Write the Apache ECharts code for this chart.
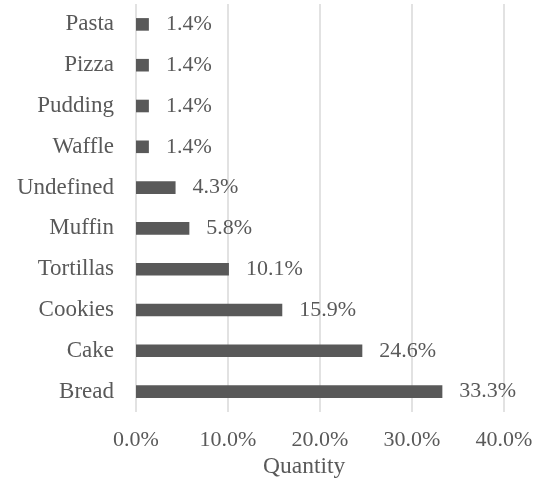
<!DOCTYPE html>
<html>
<head>
<meta charset="utf-8">
<script src="https://cdn.jsdelivr.net/npm/echarts@6/dist/echarts.min.js"></script>
<style>
  html, body { margin: 0; padding: 0; background: #ffffff; }
  #chart { width: 539px; height: 482px; }
</style>
</head>
<body>
<div id="chart"></div>
<script>
// Share of recipes per food category (percent), listed bottom to top
const categories = ['Bread', 'Cake', 'Cookies', 'Tortillas', 'Muffin', 'Undefined', 'Waffle', 'Pudding', 'Pizza', 'Pasta'];
const quantityPct = [33.3, 24.6, 15.9, 10.1, 5.8, 4.3, 1.4, 1.4, 1.4, 1.4];
const axisTicks = [0, 10, 20, 30, 40];

const FONT = "'Liberation Serif', 'Times New Roman', serif";
const TEXT = '#595959';

const chart = echarts.init(document.getElementById('chart'), null, { renderer: 'canvas' });

chart.setOption({
  animation: false,
  backgroundColor: '#ffffff',
  grid: { left: 136, right: 35, top: 4, bottom: 70, containLabel: false },
  xAxis: {
    type: 'value',
    min: axisTicks[0],
    max: axisTicks[axisTicks.length - 1],
    interval: axisTicks[1] - axisTicks[0],
    axisLine: { show: false },
    axisTick: { show: false },
    splitLine: { show: true, lineStyle: { color: '#d9d9d9', width: 1.5 } },
    axisLabel: {
      margin: 17,
      color: TEXT,
      fontFamily: FONT,
      fontSize: 22,
      formatter: v => v.toFixed(1) + '%'
    }
  },
  yAxis: {
    type: 'category',
    data: categories,
    axisLine: { show: false },
    axisTick: { show: false },
    splitLine: { show: false },
    axisLabel: {
      margin: 22,
      color: TEXT,
      fontFamily: FONT,
      fontSize: 23
    }
  },
  series: [{
    type: 'bar',
    data: quantityPct,
    barWidth: 12.6,
    itemStyle: { color: '#595959' },
    label: {
      show: true,
      position: 'right',
      distance: 17,
      color: TEXT,
      fontFamily: FONT,
      fontSize: 22,
      formatter: p => p.value.toFixed(1) + '%'
    }
  }],
  graphic: [{
    type: 'text',
    left: 263,
    top: 455,
    style: {
      text: 'Quantity',
      fill: TEXT,
      font: "23.5px 'Liberation Serif', 'Times New Roman', serif"
    }
  }]
});
</script>
</body>
</html>
